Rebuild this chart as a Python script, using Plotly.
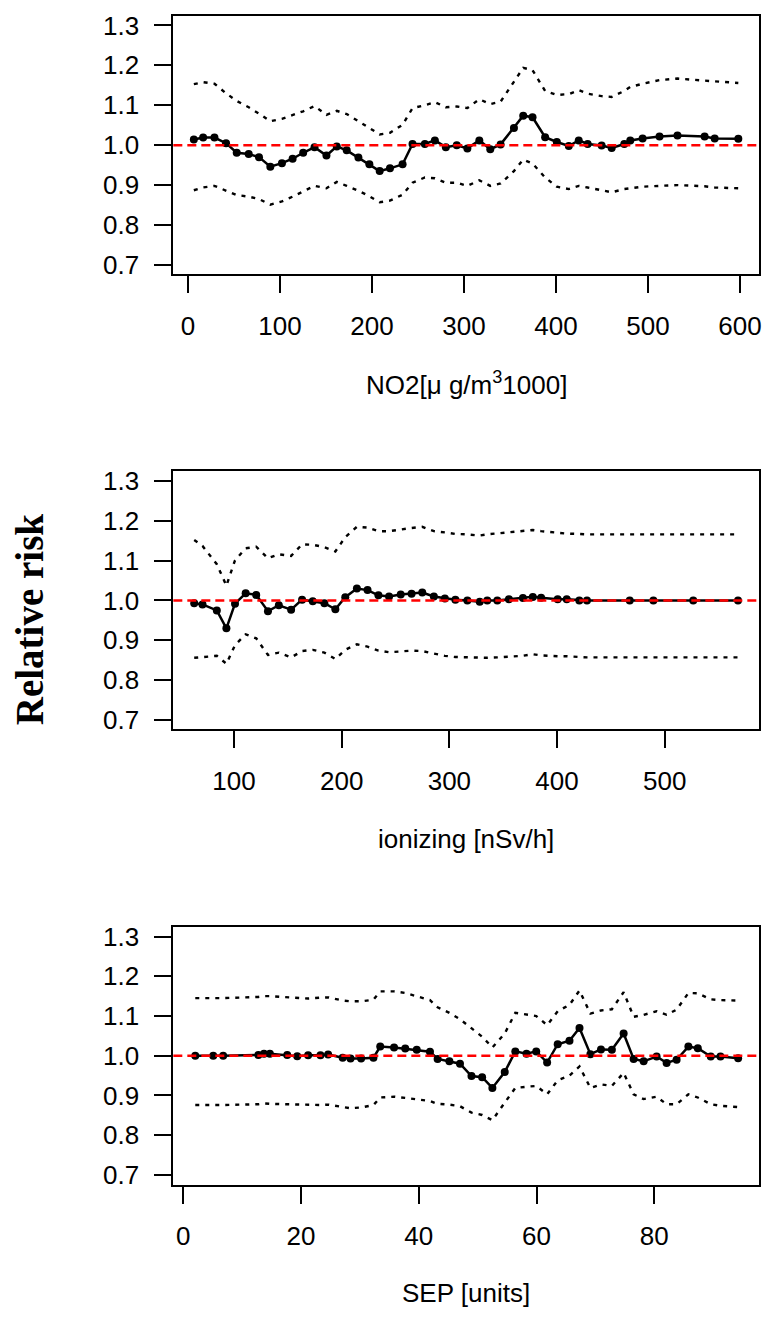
import plotly.graph_objects as go

# ---------------- data ----------------
# Panel 1: NO2
no2_x = [6.5, 16.6, 28.9, 41.5, 53.1, 66.1, 77.3, 89.6, 102.2, 113.8,
         125.3, 137.6, 150.6, 161.8, 172.6, 185.3, 197.2, 208.4, 219.6, 233.3,
         244.1, 257.5, 268.4, 280.3, 292.2, 303.7, 316.7, 328.6, 339.8, 354.3,
         364.4, 374.5, 388.2, 400.9, 413.9, 424.7, 434.4, 449.6, 460.5, 474.2,
         480.7, 494.1, 512.5, 532.0, 561.5, 572.4, 598.1]
no2_rr = [1.014, 1.019, 1.019, 1.005, 0.981, 0.978, 0.970, 0.946, 0.955, 0.966,
          0.981, 0.995, 0.974, 0.997, 0.987, 0.969, 0.952, 0.935, 0.942, 0.952,
          1.003, 1.003, 1.012, 0.995, 1.000, 0.992, 1.012, 0.990, 1.002, 1.043,
          1.074, 1.070, 1.020, 1.008, 0.998, 1.012, 1.003, 0.999, 0.993, 1.003,
          1.012, 1.017, 1.022, 1.024, 1.022, 1.017, 1.016]
no2_up = [1.153, 1.158, 1.154, 1.130, 1.111, 1.095, 1.079, 1.060, 1.066, 1.076,
          1.085, 1.098, 1.076, 1.086, 1.078, 1.060, 1.043, 1.027, 1.031, 1.051,
          1.093, 1.100, 1.108, 1.095, 1.097, 1.093, 1.115, 1.103, 1.109, 1.158,
          1.194, 1.188, 1.136, 1.126, 1.128, 1.138, 1.129, 1.123, 1.121, 1.136,
          1.146, 1.154, 1.163, 1.167, 1.163, 1.160, 1.156]
no2_lo = [0.887, 0.894, 0.898, 0.887, 0.875, 0.871, 0.865, 0.851, 0.859, 0.871,
          0.884, 0.898, 0.892, 0.908, 0.898, 0.886, 0.872, 0.857, 0.861, 0.876,
          0.906, 0.919, 0.917, 0.906, 0.906, 0.898, 0.912, 0.898, 0.904, 0.935,
          0.964, 0.954, 0.919, 0.896, 0.890, 0.898, 0.894, 0.886, 0.882, 0.890,
          0.892, 0.896, 0.898, 0.900, 0.897, 0.894, 0.892]

# Panel 2: ionizing radiation
ion_x = [63.0, 70.7, 84.0, 92.9, 100.9, 110.8, 120.6, 131.5, 141.6, 153.0,
         163.2, 173.1, 183.9, 194.1, 203.3, 214.1, 224.0, 234.1, 244.0, 254.8,
         264.9, 274.8, 285.6, 295.8, 305.6, 316.7, 328.2, 335.2, 344.5, 355.3,
         368.3, 377.5, 385.2, 400.6, 409.0, 420.7, 427.8, 467.5, 489.5, 526.5, 568.1]
ion_rr = [0.993, 0.990, 0.975, 0.930, 0.992, 1.018, 1.014, 0.973, 0.988, 0.977,
          1.002, 0.998, 0.993, 0.978, 1.008, 1.030, 1.026, 1.013, 1.010, 1.015,
          1.017, 1.020, 1.010, 1.005, 1.002, 1.000, 0.997, 1.000, 1.000, 1.003,
          1.006, 1.009, 1.007, 1.003, 1.003, 1.000, 1.000, 1.000, 1.000, 1.000, 1.000]
ion_up = [1.152, 1.137, 1.091, 1.037, 1.101, 1.131, 1.135, 1.106, 1.116, 1.112,
          1.141, 1.140, 1.134, 1.123, 1.159, 1.185, 1.183, 1.174, 1.174, 1.179,
          1.182, 1.185, 1.174, 1.171, 1.167, 1.166, 1.163, 1.166, 1.168, 1.172,
          1.175, 1.177, 1.174, 1.170, 1.168, 1.167, 1.166, 1.166, 1.166, 1.166, 1.166]
ion_lo = [0.856, 0.858, 0.861, 0.841, 0.888, 0.915, 0.905, 0.863, 0.869, 0.857,
          0.873, 0.876, 0.869, 0.853, 0.876, 0.890, 0.884, 0.874, 0.870, 0.872,
          0.874, 0.873, 0.866, 0.861, 0.858, 0.857, 0.855, 0.856, 0.857, 0.859,
          0.861, 0.865, 0.862, 0.860, 0.860, 0.858, 0.857, 0.857, 0.857, 0.857, 0.857]

# Panel 3: SEP
sep_x = [2.03, 5.08, 6.77, 12.75, 13.7, 14.7, 17.65, 19.35, 21.2, 23.3,
         24.6, 27.07, 28.4, 30.2, 32.3, 33.45, 35.8, 37.7, 39.65, 41.9,
         43.2, 45.2, 47.0, 48.95, 50.76, 52.5, 54.6, 56.4, 58.3, 59.95,
         61.8, 63.6, 65.6, 67.3, 69.15, 70.95, 72.8, 74.8, 76.5, 78.2,
         80.4, 82.1, 83.8, 85.8, 87.4, 89.6, 91.25, 94.25]
sep_rr = [1.000, 1.000, 1.000, 1.002, 1.005, 1.005, 1.002, 0.999, 1.001, 1.001,
          1.003, 0.995, 0.993, 0.993, 0.995, 1.023, 1.021, 1.018, 1.015, 1.010,
          0.992, 0.986, 0.980, 0.949, 0.946, 0.919, 0.959, 1.011, 1.005, 1.011,
          0.983, 1.029, 1.038, 1.070, 1.004, 1.016, 1.015, 1.056, 0.992, 0.986,
          0.998, 0.982, 0.990, 1.023, 1.019, 0.998, 0.998, 0.994]
sep_up = [1.145, 1.145, 1.145, 1.148, 1.150, 1.150, 1.148, 1.145, 1.144, 1.146,
          1.147, 1.139, 1.137, 1.137, 1.141, 1.162, 1.162, 1.158, 1.150, 1.140,
          1.122, 1.108, 1.092, 1.070, 1.048, 1.021, 1.056, 1.108, 1.104, 1.100,
          1.077, 1.112, 1.128, 1.164, 1.106, 1.114, 1.117, 1.160, 1.098, 1.103,
          1.112, 1.103, 1.116, 1.158, 1.157, 1.142, 1.140, 1.139]
sep_lo = [0.876, 0.876, 0.876, 0.878, 0.880, 0.879, 0.878, 0.877, 0.876, 0.876,
          0.877, 0.871, 0.868, 0.870, 0.876, 0.895, 0.897, 0.894, 0.891, 0.886,
          0.879, 0.877, 0.873, 0.857, 0.851, 0.838, 0.882, 0.919, 0.922, 0.924,
          0.903, 0.938, 0.950, 0.973, 0.919, 0.928, 0.924, 0.957, 0.903, 0.891,
          0.897, 0.878, 0.878, 0.903, 0.895, 0.878, 0.874, 0.871]

y_ticks = [0.7, 0.8, 0.9, 1.0, 1.1, 1.2, 1.3]
x_ticks = [[0, 100, 200, 300, 400, 500, 600],
           [100, 200, 300, 400, 500],
           [0, 20, 40, 60, 80]]
x_titles = ["NO2[\u03bc g/m<sup>3</sup>1000]", "ionizing [nSv/h]", "SEP [units]"]
y_title = "Relative risk"

panels = [(no2_x, no2_rr, no2_up, no2_lo),
          (ion_x, ion_rr, ion_up, ion_lo),
          (sep_x, sep_rr, sep_up, sep_lo)]

# ---------------- layout geometry ----------------
W, H = 768, 1324
x_dom = [174 / W, 762 / W]
boxes_px = [(11, 271.5), (470, 730), (929, 1188.5)]   # top, bottom in pixels
x_ranges = [[-15.8, 620.6], [43.6, 587.6], [-1.7, 97.8]]
title_y_px = [381, 840, 1298]
y_range = [0.676, 1.324]

FONT = "Liberation Sans, Arial, sans-serif"
FS = 26

fig = go.Figure()
layout = dict(
    width=W, height=H,
    margin=dict(l=0, r=0, t=0, b=0),
    paper_bgcolor="white", plot_bgcolor="white",
    showlegend=False,
    font=dict(family=FONT, size=FS, color="black"),
)

shapes = []
annotations = []
for i, (xs, rr, up, lo) in enumerate(panels):
    n = "" if i == 0 else str(i + 1)
    xa, ya = "x" + n, "y" + n
    top, bot = boxes_px[i]
    y_dom = [1 - bot / H, 1 - top / H]
    common = dict(showline=True, linecolor="black", linewidth=2, mirror=True,
                  ticks="outside", ticklen=17, tickwidth=1.8, tickcolor="black",
                  showgrid=False, zeroline=False,
                  tickfont=dict(family=FONT, size=FS, color="black"))
    layout["xaxis" + n] = dict(domain=x_dom, range=x_ranges[i], anchor=ya,
                               tickmode="array", tickvals=x_ticks[i],
                               ticklabelstandoff=10, **common)
    layout["yaxis" + n] = dict(domain=y_dom, range=y_range, anchor=xa,
                               tickmode="array", tickvals=y_ticks,
                               ticktext=["%.1f" % v for v in y_ticks],
                               ticklabelstandoff=10, **common)

    fig.add_trace(go.Scatter(x=xs, y=up, xaxis=xa, yaxis=ya, mode="lines",
                             line=dict(color="black", width=2.4, dash="4px,6px"),
                             hoverinfo="skip"))
    fig.add_trace(go.Scatter(x=xs, y=lo, xaxis=xa, yaxis=ya, mode="lines",
                             line=dict(color="black", width=2.4, dash="4px,6px"),
                             hoverinfo="skip"))
    fig.add_trace(go.Scatter(x=xs, y=rr, xaxis=xa, yaxis=ya, mode="lines+markers",
                             line=dict(color="black", width=2.5),
                             marker=dict(color="black", size=8)))

    shapes.append(dict(type="line", xref=xa + " domain", yref=ya,
                       x0=0, x1=1, y0=1.0, y1=1.0, layer="above",
                       line=dict(color="red", width=2.4, dash="9px,5px")))
    annotations.append(dict(text=x_titles[i], xref="paper", yref="paper",
                            x=468 / W, y=1 - title_y_px[i] / H,
                            xanchor="center", yanchor="middle", showarrow=False,
                            font=dict(family=FONT, size=FS, color="black")))

annotations.append(dict(text="<b>" + y_title + "</b>", xref="paper", yref="paper",
                        x=29 / W, y=1 - 619 / H, textangle=-90,
                        xanchor="center", yanchor="middle", showarrow=False,
                        font=dict(family="Liberation Serif, Times New Roman, serif",
                                  size=39, color="black")))

layout["shapes"] = shapes
layout["annotations"] = annotations
fig.update_layout(**layout)
fig.write_html("out.html")
